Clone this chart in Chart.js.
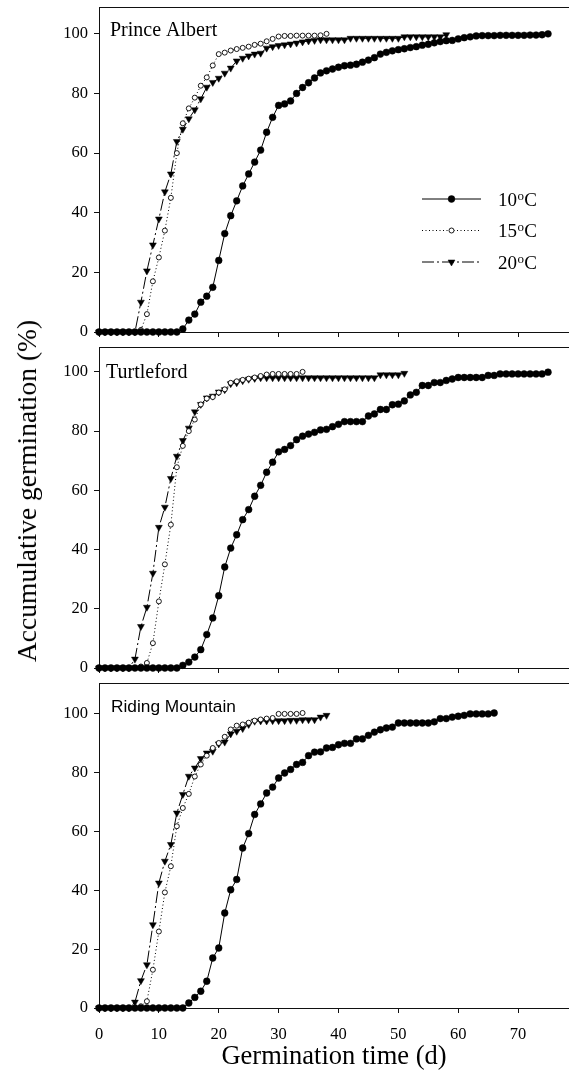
<!DOCTYPE html>
<html>
<head>
<meta charset="utf-8">
<title>Accumulative germination</title>
<script src="https://cdn.jsdelivr.net/npm/chart.js@4.4.1/dist/chart.umd.min.js"></script>
<style>
  body { margin: 0; background: #fff; }
  #fig { position: relative; width: 569px; height: 1070px; overflow: hidden; }
  #fig canvas { position: absolute; left: 0; }
  #ytitle {
    position: absolute; left: 27px; top: 491px;
    transform: translate(-50%, -50%) rotate(-90deg);
    white-space: nowrap; color: #000;
    font-family: 'Liberation Serif', 'Times New Roman', serif; font-size: 27.5px;
  }
</style>
</head>
<body>
<div id="fig">
  <canvas id="pa" width="569" height="340" style="top:0"></canvas>
  <canvas id="tu" width="569" height="337" style="top:340px"></canvas>
  <canvas id="rm" width="569" height="393" style="top:677px"></canvas>
  <div id="ytitle">Accumulative germination (%)</div>
</div>
<script>
// values are daily readings, index = day (0, 1, 2, ...)
const xTicks = [0, 10, 20, 30, 40, 50, 60, 70];
const yTicks = [0, 20, 40, 60, 80, 100];
const seriesNames = ['10ºC', '15ºC', '20ºC'];
const sites = ['Prince Albert', 'Turtleford', 'Riding Mountain'];

// Prince Albert
const pa10 = [0, 0, 0, 0, 0, 0, 0, 0, 0, 0, 0, 0, 0, 0,
  1, 4, 6, 10, 12, 15, 24, 33, 39, 44, 49, 53, 57, 61, 67, 72,
  76, 76.5, 77.5, 80, 82, 83.6, 85.2, 86.9, 87.6, 88.2, 88.8, 89.3, 89.5, 89.8, 90.5, 91.2,
  92, 93.2, 93.8, 94.3, 94.7, 95, 95.4, 95.7, 96.2, 96.5, 97, 97.4, 97.7, 97.8, 98.3,
  98.7, 99, 99.3, 99.4, 99.4, 99.4, 99.5, 99.5, 99.5, 99.5, 99.5, 99.6, 99.6, 99.7, 100];
const pa15 = [0, 0, 0, 0, 0, 0, 0, 0.7, 6, 17, 25, 34, 45, 60, 70, 75, 78.6, 82.6, 85.4, 89.4,
  93.2, 93.7, 94.4, 94.9, 95.3, 95.7, 96.3, 96.7, 97.5, 98.3, 99.1, 99.3, 99.3, 99.4, 99.4,
  99.4, 99.4, 99.5, 100];
const pa20 = [0, 0, 0, 0, 0, 0, 0, 10, 20.5, 29.2, 37.9, 47, 53, 63.9, 68, 71.5, 74.5, 78.2,
  82.1, 83.7, 85.1, 86.8, 88.5, 90.9, 91.8, 92.6, 93.2, 93.5, 95.2, 95.7, 96.1, 96.3, 96.6,
  96.9, 97.3, 97.6, 97.8, 98, 98, 98, 98, 98, 98.5, 98.5, 98.5, 98.5, 98.5, 98.5, 98.5, 98.5,
  98.5, 99, 99, 99, 99, 99, 99, 99, 99.7];

// Turtleford
const tu10 = [0, 0, 0, 0, 0, 0, 0, 0, 0, 0, 0, 0, 0, 0,
  0.9, 2, 3.7, 6.2, 11.3, 16.9, 24.4, 34.1, 40.5, 45, 50.1, 53.5, 58, 61.7, 66.1, 69.5,
  73, 73.8, 75.1, 77.1, 78.3, 79, 79.6, 80.4, 80.6, 81.5, 82.3, 83.2, 83.2, 83.2, 83.2, 85.1,
  85.8, 87.3, 87.3, 88.9, 89.1, 90.2, 92.2, 93.1, 95.4, 95.4, 96.4, 96.4, 97.1, 97.6, 98.1,
  98.1, 98.1, 98.1, 98.1, 98.8, 98.8, 99.3, 99.3, 99.3, 99.3, 99.3, 99.3, 99.3, 99.3, 99.9];
const tu15 = [0, 0, 0, 0, 0, 0, 0, 0.5, 1.7, 8.4, 22.5, 35, 48.4, 67.8, 75, 80, 83.9, 89, 91,
  91.5, 93, 94.1, 96.3, 96.8, 97.3, 97.7, 98.1, 98.6, 99.1, 99.3, 99.3, 99.3, 99.3, 99.3, 100];
const tu20 = [0, 0, 0, 0, 0, 0, 3, 14, 20.5, 32, 47.5, 54.3, 64, 71.5, 76.8, 81, 86.5, 89,
  91.2, 91.8, 93.2, 94, 96, 96.3, 97, 97.5, 97.8, 98, 98, 98, 98, 98, 98, 98, 98, 98, 98, 98,
  98, 98, 98, 98, 98, 98, 98, 98, 98, 99, 99, 99, 99, 99.5];

// Riding Mountain
const rm10 = [0, 0, 0, 0, 0, 0, 0, 0, 0, 0, 0, 0, 0, 0, 0,
  1.7, 3.6, 5.7, 9.1, 17, 20.4, 32.3, 40.2, 43.7, 54.4, 59.3, 65.8, 69.4, 73.1, 75.1,
  78.2, 79.9, 81.1, 82.8, 83.5, 85.8, 87, 87.1, 88.4, 88.6, 89.5, 90, 90, 91.5, 91.5,
  92.7, 93.8, 94.6, 95.2, 95.5, 96.9, 96.9, 96.9, 96.9, 96.9, 96.9, 97.3, 98.4, 98.4,
  98.9, 99.2, 99.5, 100, 100, 100, 100, 100.3];
const rm15 = [0, 0, 0, 0, 0, 0, 0, 0.6, 2.3, 13, 26, 39.3, 48.2, 61.8, 68, 72.8, 78.7, 82.8,
  85.8, 88.4, 90.1, 92.2, 94.7, 96, 96.4, 97, 97.7, 98.1, 98.4, 98.6, 100, 100, 100, 100, 100.3];
const rm20 = [0, 0, 0, 0, 0, 0, 2, 9.3, 14.7, 28.3, 42.5, 49.9, 55.6, 66.3, 72.6, 78.8, 81.6,
  84.8, 86.7, 87.3, 89.8, 90.4, 93.2, 94.1, 95, 96.4, 97.5, 97.6, 97.6, 97.7, 97.7, 97.7, 97.8,
  97.8, 98, 98, 98, 98.9, 99.5];

const SERIF = "'Liberation Serif', 'Times New Roman', serif";
const SANS = "'Liberation Sans', Arial, sans-serif";
const AXIS = '#111';

const STYLES = [
  { dash: [], pointStyle: 'circle', radius: 3.4, rotation: 0, fill: '#000', pbw: 0.5 },
  { dash: [1, 2.5], pointStyle: 'circle', radius: 2.5, rotation: 0, fill: '#fff', pbw: 0.9 },
  { dash: [12, 3, 2, 3], pointStyle: 'triangle', radius: 4, rotation: 180, fill: '#000', pbw: 0.5 }
];

const PANELS = [
  { id: 'pa', site: sites[0], series: [pa10, pa15, pa20], yMax: 109, padTop: 7, axisH: 8,
    labelFont: { family: SERIF, size: 20 }, labelDx: 11, labelDy: 29, legend: true, xLabels: false },
  { id: 'tu', site: sites[1], series: [tu10, tu15, tu20], yMax: 108.4, padTop: 7, axisH: 9,
    labelFont: { family: SERIF, size: 20 }, labelDx: 7, labelDy: 31, legend: false, xLabels: false },
  { id: 'rm', site: sites[2], series: [rm10, rm15, rm20], yMax: 110.5, padTop: 6, axisH: 62,
    labelFont: { family: SANS, size: 17.3 }, labelDx: 12, labelDy: 29, legend: false, xLabels: true }
];

// legend box inside the first panel, offsets from the chart area corner
const LEG = { left: 323, top: 192, rowGap: 31.5, lineLen: 59, textGap: 17 };

// top edge of each panel frame
const frameTop = {
  id: 'frameTop',
  afterDraw(chart) {
    const { ctx, chartArea: a } = chart;
    ctx.save();
    ctx.strokeStyle = AXIS;
    ctx.lineWidth = 1;
    ctx.beginPath();
    ctx.moveTo(a.left, a.top + 0.5);
    ctx.lineTo(chart.width, a.top + 0.5);
    ctx.stroke();
    ctx.restore();
  }
};

function siteLabel(p) {
  return {
    id: 'siteLabel',
    afterDraw(chart) {
      const { ctx, chartArea: a } = chart;
      ctx.save();
      ctx.fillStyle = '#000';
      ctx.font = p.labelFont.size + 'px ' + p.labelFont.family;
      ctx.textBaseline = 'alphabetic';
      ctx.fillText(p.site, a.left + p.labelDx, a.top + p.labelDy);
      ctx.restore();
    }
  };
}

const inlineLegend = {
  id: 'inlineLegend',
  afterDraw(chart) {
    const { ctx, chartArea: a } = chart;
    chart.data.datasets.forEach((ds, i) => {
      const y = a.top + LEG.top + i * LEG.rowGap;
      const x1 = a.left + LEG.left;
      const x2 = x1 + LEG.lineLen;
      ctx.save();
      ctx.strokeStyle = '#000';
      ctx.lineWidth = 1;
      ctx.setLineDash(ds.borderDash);
      ctx.beginPath();
      ctx.moveTo(x1, y);
      ctx.lineTo(x2, y);
      ctx.stroke();
      ctx.setLineDash([]);
      ctx.fillStyle = ds.pointBackgroundColor;
      ctx.strokeStyle = '#000';
      ctx.lineWidth = ds.pointBorderWidth;
      Chart.helpers.drawPoint(ctx, {
        pointStyle: ds.pointStyle, radius: ds.pointRadius,
        rotation: ds.pointRotation, borderWidth: ds.pointBorderWidth
      }, (x1 + x2) / 2, y);

      // "10ºC" with the º raised as a small o
      const [num, unit] = ds.label.split('º');
      let tx = x2 + LEG.textGap;
      ctx.fillStyle = '#000';
      ctx.textBaseline = 'alphabetic';
      const base = y + 6.5;
      ctx.font = '19px ' + SERIF;
      ctx.fillText(num, tx, base);
      tx += ctx.measureText(num).width + 0.5;
      ctx.font = '13px ' + SERIF;
      ctx.fillText('o', tx, base - 6);
      tx += ctx.measureText('o').width + 0.3;
      ctx.font = '19px ' + SERIF;
      ctx.fillText(unit, tx, base);
      ctx.restore();
    });
  }
};

function makeChart(p) {
  const gridOpts = { drawOnChartArea: false, drawTicks: true, tickLength: 5, color: AXIS, lineWidth: 1 };
  const borderOpts = { display: true, color: AXIS, width: 1 };
  const plugins = [frameTop, siteLabel(p)];
  if (p.legend) plugins.push(inlineLegend);

  return new Chart(document.getElementById(p.id), {
    type: 'line',
    data: {
      datasets: p.series.map((vals, i) => ({
        label: seriesNames[i],
        data: vals.map((v, day) => ({ x: day, y: v })),
        borderColor: '#000',
        borderWidth: 1,
        borderDash: STYLES[i].dash,
        pointStyle: STYLES[i].pointStyle,
        pointRadius: STYLES[i].radius,
        pointRotation: STYLES[i].rotation,
        pointBackgroundColor: STYLES[i].fill,
        pointBorderColor: '#000',
        pointBorderWidth: STYLES[i].pbw,
        tension: 0,
        clip: false
      }))
    },
    options: {
      responsive: false,
      animation: false,
      events: [],
      layout: { autoPadding: false, padding: { top: p.padTop, left: 0, right: 0, bottom: 0 } },
      plugins: { legend: { display: false }, tooltip: { enabled: false } },
      scales: {
        x: {
          type: 'linear', min: 0, max: 78.5,
          afterBuildTicks: s => { s.ticks = xTicks.map(v => ({ value: v })); },
          afterFit: s => { s.height = p.axisH; s.paddingLeft = 0; s.paddingRight = 0; },
          grid: gridOpts,
          border: borderOpts,
          ticks: { display: p.xLabels, color: '#000', font: { family: SERIF, size: 16.5 }, padding: 12, maxRotation: 0 },
          title: {
            display: p.xLabels, text: 'Germination time (d)', color: '#000',
            font: { family: SERIF, size: 26.5, lineHeight: 1 }, padding: { top: 0, bottom: 0 }
          }
        },
        y: {
          type: 'linear', min: 0, max: p.yMax,
          afterBuildTicks: s => { s.ticks = yTicks.map(v => ({ value: v })); },
          afterFit: s => { s.width = 99; s.paddingTop = 0; s.paddingBottom = 0; },
          grid: gridOpts,
          border: borderOpts,
          ticks: { color: '#000', font: { family: SERIF, size: 16.5 }, padding: 6 }
        }
      }
    },
    plugins
  });
}

PANELS.forEach(makeChart);
</script>
</body>
</html>
